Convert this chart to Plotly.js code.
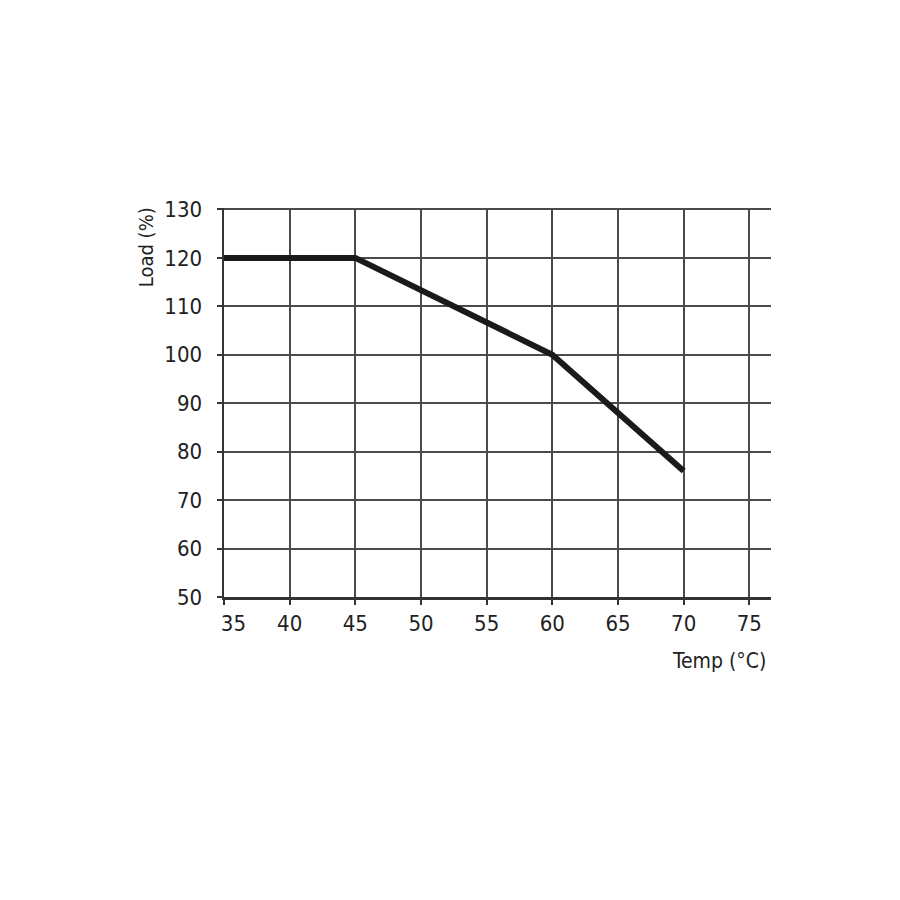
<!DOCTYPE html>
<html>
<head>
<meta charset="utf-8">
<script src="https://cdn.plot.ly/plotly-3.0.1.min.js"></script>
<style>html,body{margin:0;padding:0;background:#fff;}#chart{width:900px;height:900px;}</style>
</head>
<body>
<div id="chart"></div>
<script>
const tempC = [35, 45, 60, 70];
const loadPct = [120, 120, 100, 76];
const xTickVals = [35, 40, 45, 50, 55, 60, 65, 70, 75];
const xTickText = ["\u00a0\u00a0\u00a035", "40", "45", "50", "55", "60", "65", "70", "75"];
const yTickVals = [50, 60, 70, 80, 90, 100, 110, 120, 130];
const yTitle = "Load (%)";
const xTitle = "Temp (°C)";

const fontFam = '"DejaVu Sans Condensed", "Liberation Sans Narrow", Arial, sans-serif';

Plotly.newPlot('chart', [{
  x: tempC, y: loadPct, type: 'scatter', mode: 'lines',
  line: {color: '#1a1a1a', width: 6},
  hoverinfo: 'none', showlegend: false, cliponaxis: false
}], {
  width: 900, height: 900,
  margin: {l: 224, r: 129, t: 208, b: 303},
  paper_bgcolor: '#fff', plot_bgcolor: '#fff',
  font: {family: fontFam, color: '#222', size: 22},
  xaxis: {
    range: [35, 76.65], tickmode: 'array', tickvals: xTickVals, ticktext: xTickText,
    showgrid: true, gridcolor: '#4a4a4a', gridwidth: 2,
    showline: true, linecolor: '#333', linewidth: 2.5,
    ticks: 'outside', ticklen: 5, tickwidth: 2, tickcolor: '#333',
    zeroline: false, fixedrange: true,
    tickfont: {family: fontFam, size: 22, color: '#222'}
  },
  yaxis: {
    range: [50, 130.3], tickmode: 'array', tickvals: yTickVals,
    showgrid: true, gridcolor: '#4a4a4a', gridwidth: 2,
    showline: true, linecolor: '#333', linewidth: 2.5,
    ticks: 'outside', ticklen: 5, tickwidth: 2, tickcolor: '#333',
    ticklabelstandoff: 10,
    zeroline: false, fixedrange: true,
    tickfont: {family: fontFam, size: 22, color: '#222'}
  },
  annotations: [
    {text: yTitle, xref: 'paper', yref: 'paper', x: -0.142, y: 0.9, xanchor: 'center', yanchor: 'middle',
     textangle: -90, showarrow: false, font: {family: fontFam, size: 20, color: '#222'}},
    {text: xTitle, xref: 'paper', yref: 'paper', x: 0.995, y: -0.165, xanchor: 'right', yanchor: 'middle',
     showarrow: false, font: {family: fontFam, size: 21, color: '#222'}}
  ]
}, {displayModeBar: false, staticPlot: true});
</script>
</body>
</html>
